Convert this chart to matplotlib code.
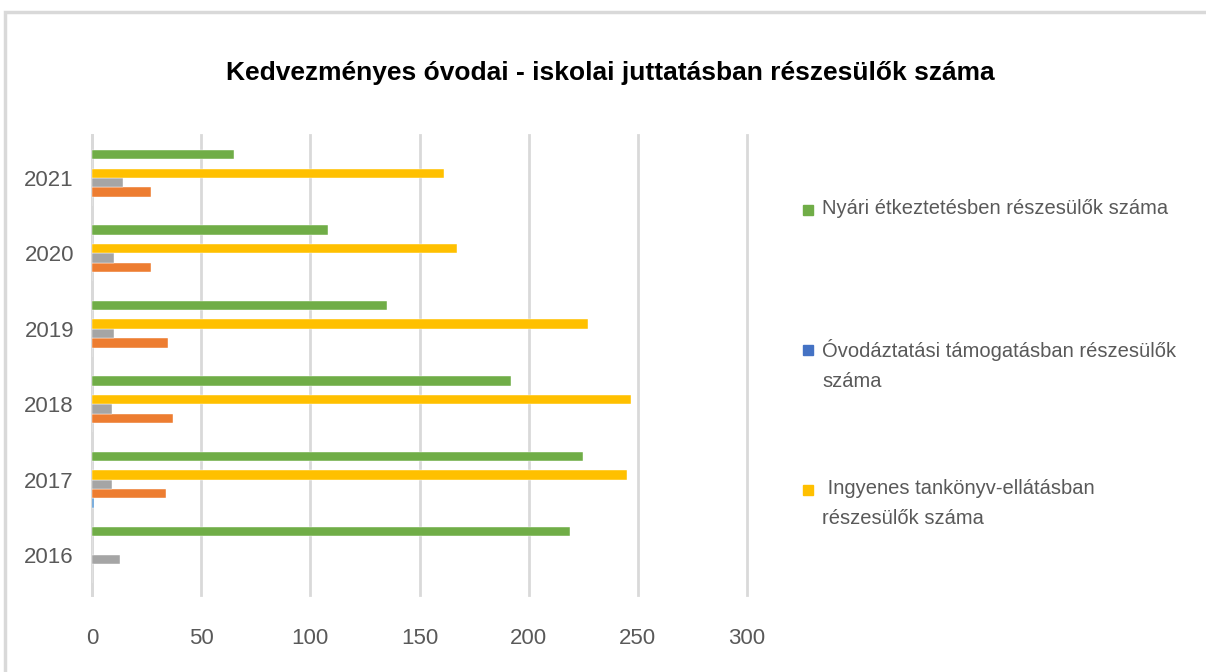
import matplotlib
matplotlib.use('Agg')
import matplotlib.pyplot as plt
from matplotlib.patches import Rectangle
import numpy as np

plt.rcParams['font.family'] = ['Liberation Sans', 'DejaVu Sans']

years = ['2016', '2017', '2018', '2019', '2020', '2021']

# series listed from the bottom slot of each group to the top slot
light_blue = [0, 1, 0, 0, 0, 0]
orange = [0, 34, 37, 35, 27, 27]
gray = [13, 9, 9, 10, 10, 14]
yellow = [0, 245, 247, 227, 167, 161]
dark_blue = [0, 0, 0, 0, 0, 0]
green = [219, 225, 192, 135, 108, 65]

series_values = [light_blue, orange, gray, yellow, dark_blue, green]
series_colors = ['#5B9BD5', '#ED7D31', '#A5A5A5', '#FFC000', '#4472C4', '#70AD47']

legend_labels = [
    'Nyári étkeztetésben részesülők száma',
    'Óvodáztatási támogatásban részesülők\nszáma',
    ' Ingyenes tankönyv-ellátásban\nrészesülők száma',
]
legend_colors = ['#70AD47', '#4472C4', '#FFC000']

fig = plt.figure(figsize=(12.06, 6.72), dpi=100)
W, H = 1206, 672

ax = fig.add_axes([92 / W, 1 - 595 / H, (747 - 92) / W, (595 - 135) / H])

y = np.arange(len(years))
slot = 0.124
n = len(series_values)
for i, (vals, col) in enumerate(zip(series_values, series_colors)):
    offset = (i - (n - 1) / 2) * slot
    ax.barh(y + offset, vals, height=slot, color=col, edgecolor='white',
            linewidth=0.3, zorder=3)

ax.set_xlim(0, 300)
ax.set_ylim(-0.53, 5.57)
ax.set_xticks(range(0, 301, 50))
ax.set_yticks(y)
ax.set_yticklabels(years)
ax.grid(axis='x', color='#d9d9d9', linewidth=2, zorder=0)
for line in ax.get_xgridlines():
    line.set_clip_on(False)
for s in ['top', 'right', 'bottom']:
    ax.spines[s].set_visible(False)
ax.spines['left'].set_color('#d9d9d9')
ax.spines['left'].set_linewidth(2)
ax.tick_params(axis='both', length=0, labelsize=16, labelcolor='#595959')
ax.tick_params(axis='x', pad=24)
ax.tick_params(axis='y', pad=13)

fig.text(610 / W, 1 - 73 / H,
         'Kedvezményes óvodai - iskolai juttatásban részesülők száma',
         ha='center', va='center', fontsize=19, fontweight='bold', color='black')

# legend drawn by hand to follow the reference placement
legend_y = [210, 350, 490]
for lab, col, ly in zip(legend_labels, legend_colors, legend_y):
    fig.patches.append(Rectangle((803 / W, 1 - (ly + 5) / H), 10 / W, 10 / H,
                                 transform=fig.transFigure, color=col))
    fig.text(822 / W, 1 - (ly - 11) / H, lab, ha='left', va='top',
             fontsize=14.5, color='#595959', linespacing=1.75)

# outer chart frame
fig.patches.append(Rectangle((5 / W, -0.1), 1.2, 1 - 12 / H + 0.1,
                             transform=fig.transFigure, fill=False,
                             edgecolor='#d9d9d9', linewidth=2.5))

fig.savefig('out.png', dpi=100)
